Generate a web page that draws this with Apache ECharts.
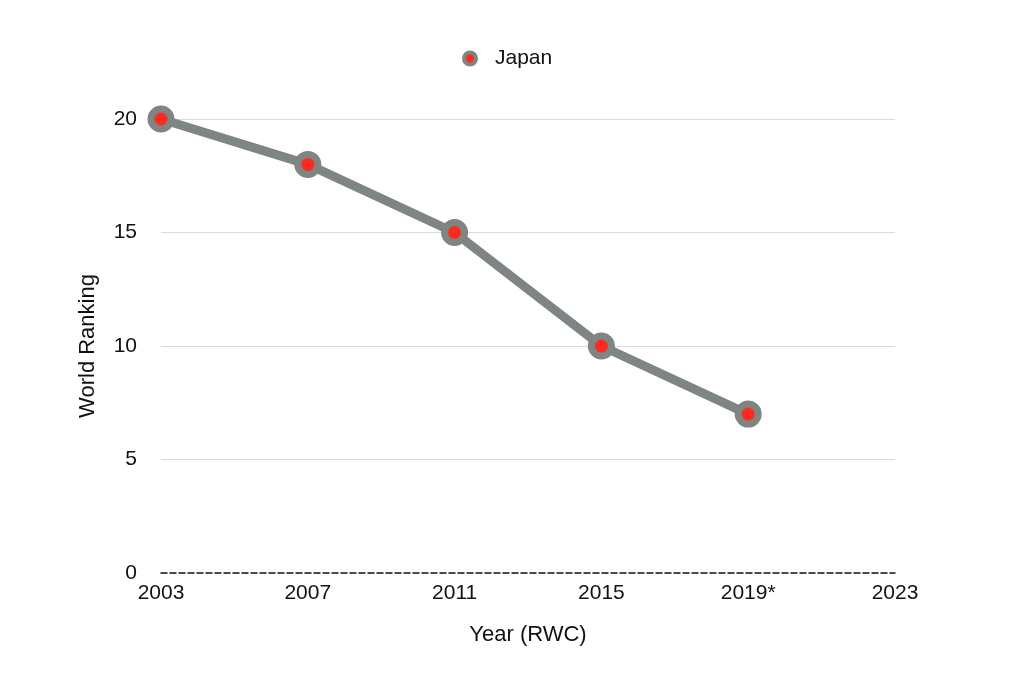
<!DOCTYPE html>
<html>
<head>
<meta charset="utf-8">
<script src="https://cdn.jsdelivr.net/npm/echarts@6/dist/echarts.min.js"></script>
<style>html,body{margin:0;padding:0;background:#fff;}#c{width:1024px;height:681px;}</style>
</head>
<body>
<div id="c"></div>
<script>
const categories = ['2003', '2007', '2011', '2015', '2019*', '2023'];
const japanRanking = [20, 18, 15, 10, 7, null];
const yTicks = [0, 5, 10, 15, 20];

const chart = echarts.init(document.getElementById('c'));
const font = 'Liberation Sans, Helvetica, Arial, sans-serif';
chart.setOption({
  animation: false,
  backgroundColor: '#ffffff',
  textStyle: { fontFamily: font },
  legend: {
    top: 43,
    left: 457,
    itemWidth: 12,
    itemHeight: 12,
    itemGap: 10,
    textStyle: { fontSize: 21, color: '#111', fontFamily: font, padding: [0, 0, 0, 14] },
    data: [{ name: 'Japan', icon: 'circle', itemStyle: { color: '#ff2a1f', borderColor: '#7f8581', borderWidth: 4 } }]
  },
  grid: { left: 161, right: 129, top: 119, bottom: 108 },
  xAxis: {
    type: 'category',
    data: categories,
    boundaryGap: false,
    name: 'Year (RWC)',
    nameLocation: 'middle',
    nameGap: 51,
    nameTextStyle: { fontSize: 22, color: '#111', fontFamily: font },
    axisLine: { show: true, lineStyle: { color: '#111', type: [6, 3], width: 1.5 } },
    axisTick: { show: false },
    axisLabel: { fontSize: 21, color: '#111', margin: 10, fontFamily: font },
    splitLine: { show: false }
  },
  yAxis: {
    type: 'value',
    min: 0,
    max: 20,
    interval: 5,
    name: 'World Ranking',
    nameLocation: 'middle',
    nameGap: 62,
    nameTextStyle: { fontSize: 22, color: '#111', fontFamily: font },
    axisLine: { show: false },
    axisTick: { show: false },
    axisLabel: {
      fontSize: 21, color: '#111', margin: 24, fontFamily: font,
      formatter: v => yTicks.includes(v) ? String(v) : ''
    },
    splitLine: { show: true, lineStyle: { color: ['transparent', '#d9d9d9', '#d9d9d9', '#d9d9d9', '#d9d9d9'], width: 1 } }
  },
  series: [{
    name: 'Japan',
    type: 'line',
    data: japanRanking,
    symbol: 'circle',
    symbolSize: 20,
    lineStyle: { color: '#7f8581', width: 9 },
    itemStyle: { color: '#ff2a1f', borderColor: '#7f8581', borderWidth: 7 },
    z: 3
  }]
});
</script>
</body>
</html>
